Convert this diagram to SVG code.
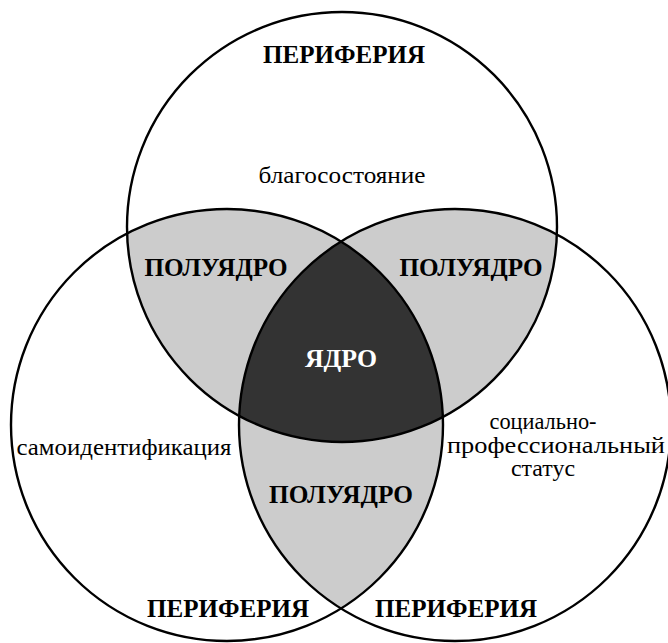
<svg xmlns="http://www.w3.org/2000/svg" width="668" height="643" viewBox="0 0 668 643">
  <style>
    .ring { fill: none; stroke: #000; stroke-width: 2.4; }
    .base { fill: #fff; }
    .semi { fill: #cccccc; }
    .core { fill: #333333; }
    .bold { font-family: "Liberation Serif", "DejaVu Serif", serif; font-weight: bold; font-size: 26px; text-anchor: middle; fill: #000; }
    .reg { font-family: "Liberation Serif", "DejaVu Serif", serif; font-size: 23px; text-anchor: middle; fill: #000; }
    .white { fill: #fff; }
  </style>
  <defs>
    <circle id="cTop" cx="342" cy="227" r="215"/>
    <circle id="cLeft" cx="227" cy="425" r="216"/>
    <circle id="cRight" cx="455" cy="425" r="216"/>
    <clipPath id="clipTop"><use href="#cTop"/></clipPath>
    <clipPath id="clipLeft"><use href="#cLeft"/></clipPath>
  </defs>
  <rect width="668" height="643" fill="#fff"/>

  <g id="fills">
    <use href="#cTop" class="base"/>
    <use href="#cLeft" class="base"/>
    <use href="#cRight" class="base"/>
    <use href="#cLeft" class="semi" clip-path="url(#clipTop)"/>
    <use href="#cRight" class="semi" clip-path="url(#clipTop)"/>
    <use href="#cRight" class="semi" clip-path="url(#clipLeft)"/>
    <g clip-path="url(#clipLeft)">
      <use href="#cRight" class="core" clip-path="url(#clipTop)"/>
    </g>
  </g>

  <g id="circle-top"><use href="#cTop" class="ring"/></g>
  <g id="circle-left"><use href="#cLeft" class="ring"/></g>
  <g id="circle-right"><use href="#cRight" class="ring"/></g>

  <g id="label-periphery-top"><text class="bold" x="344" y="63" textLength="162" lengthAdjust="spacingAndGlyphs">ПЕРИФЕРИЯ</text></g>
  <g id="label-wealth"><text class="reg" x="342" y="183" textLength="167" lengthAdjust="spacingAndGlyphs">благосостояние</text></g>
  <g id="label-semi-left"><text class="bold" x="216" y="276" textLength="143" lengthAdjust="spacingAndGlyphs">ПОЛУЯДРО</text></g>
  <g id="label-semi-right"><text class="bold" x="471" y="276" textLength="143" lengthAdjust="spacingAndGlyphs">ПОЛУЯДРО</text></g>
  <g id="label-core"><text class="bold white" x="341" y="367" textLength="72" lengthAdjust="spacingAndGlyphs">ЯДРО</text></g>
  <g id="label-selfid"><text class="reg" x="124" y="455" textLength="215" lengthAdjust="spacingAndGlyphs">самоидентификация</text></g>
  <g id="label-status">
    <text class="reg" x="543" y="429" textLength="107" lengthAdjust="spacingAndGlyphs">социально-</text>
    <text class="reg" x="556" y="453" textLength="218" lengthAdjust="spacingAndGlyphs">профессиональный</text>
    <text class="reg" x="543" y="476" textLength="64" lengthAdjust="spacingAndGlyphs">статус</text>
  </g>
  <g id="label-semi-bottom"><text class="bold" x="341" y="503" textLength="144" lengthAdjust="spacingAndGlyphs">ПОЛУЯДРО</text></g>
  <g id="label-periphery-left"><text class="bold" x="228" y="617" textLength="162" lengthAdjust="spacingAndGlyphs">ПЕРИФЕРИЯ</text></g>
  <g id="label-periphery-right"><text class="bold" x="456" y="617" textLength="162" lengthAdjust="spacingAndGlyphs">ПЕРИФЕРИЯ</text></g>
</svg>
